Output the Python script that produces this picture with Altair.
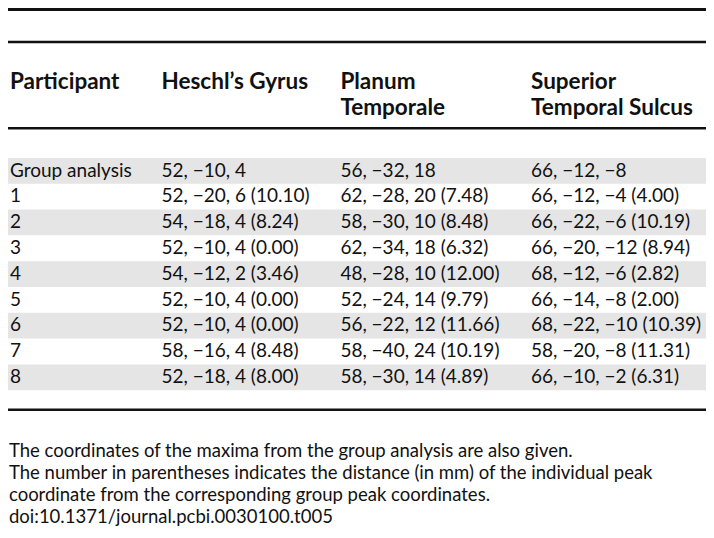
import altair as alt
import pandas as pd

# ---- table content ----
participants = ["Group analysis", "1", "2", "3", "4", "5", "6", "7", "8"]
heschl = ["52, −10, 4", "52, −20, 6 (10.10)", "54, −18, 4 (8.24)", "52, −10, 4 (0.00)",
          "54, −12, 2 (3.46)", "52, −10, 4 (0.00)", "52, −10, 4 (0.00)", "58, −16, 4 (8.48)",
          "52, −18, 4 (8.00)"]
planum = ["56, −32, 18", "62, −28, 20 (7.48)", "58, −30, 10 (8.48)", "62, −34, 18 (6.32)",
          "48, −28, 10 (12.00)", "52, −24, 14 (9.79)", "56, −22, 12 (11.66)", "58, −40, 24 (10.19)",
          "58, −30, 14 (4.89)"]
sts = ["66, −12, −8", "66, −12, −4 (4.00)", "66, −22, −6 (10.19)", "66, −20, −12 (8.94)",
       "68, −12, −6 (2.82)", "66, −14, −8 (2.00)", "68, −22, −10 (10.39)", "58, −20, −8 (11.31)",
       "66, −10, −2 (6.31)"]
header_line1 = ["Participant", "Heschl’s Gyrus", "Planum", "Superior"]
header_line2 = ["", "", "Temporale", "Temporal Sulcus"]
footnotes = [
    "The coordinates of the maxima from the group analysis are also given.",
    "The number in parentheses indicates the distance (in mm) of the individual peak",
    "coordinate from the corresponding group peak coordinates.",
    "doi:10.1371/journal.pcbi.0030100.t005",
]

# ---- layout (reference pixel space) ----
REF_W, REF_H = 714, 538
col_x = [2, 157, 340, 535]
head_y = [76, 103]
row_y0, pitch = 167.5, 26.6
band_top = 154.5
rule_y = [1.5, 35, 124, 414]
rule_w = [3, 2.4, 2.4, 2.4]
foot_y0, foot_pitch = 457, 22.6
FONT = "Lato"
FS = 19
FS_HEAD = 22.5
FS_FOOT = 18.5

columns = [participants, heschl, planum, sts]

cells = pd.DataFrame([
    {"x": col_x[j], "y": row_y0 + i * pitch, "t": columns[j][i]}
    for j in range(4) for i in range(len(participants))
])
heads = pd.DataFrame([
    {"x": col_x[j], "y": head_y[k], "t": [header_line1, header_line2][k][j]}
    for j in range(4) for k in range(2) if [header_line1, header_line2][k][j]
])
bands = pd.DataFrame([
    {"x": 0, "x2": REF_W, "y": band_top + i * pitch, "y2": band_top + (i + 1) * pitch}
    for i in range(0, len(participants), 2)
])
rules = pd.DataFrame([
    {"x": 0, "x2": REF_W, "y": y, "w": w} for y, w in zip(rule_y, rule_w)
])
foots = pd.DataFrame([
    {"x": 1, "y": foot_y0 + k * foot_pitch, "t": t} for k, t in enumerate(footnotes)
])

xs = alt.Scale(domain=[0, REF_W], nice=False, zero=False)
ys = alt.Scale(domain=[0, REF_H], nice=False, zero=False, reverse=True)

band_layer = alt.Chart(bands).mark_rect(color="#e5e5e5").encode(
    x=alt.X("x:Q", scale=xs, axis=None), x2="x2:Q",
    y=alt.Y("y:Q", scale=ys, axis=None), y2="y2:Q")

rule_layer = alt.Chart(rules).mark_rule(color="#111111").encode(
    x=alt.X("x:Q", scale=xs, axis=None), x2="x2:Q",
    y=alt.Y("y:Q", scale=ys, axis=None),
    strokeWidth=alt.StrokeWidth("w:Q", scale=None, legend=None))

head_layer = alt.Chart(heads).mark_text(
    align="left", baseline="middle", font=FONT, fontSize=FS_HEAD, fontWeight="bold", color="#111111"
).encode(x=alt.X("x:Q", scale=xs, axis=None), y=alt.Y("y:Q", scale=ys, axis=None), text="t:N")

cell_layer = alt.Chart(cells).mark_text(
    align="left", baseline="middle", font=FONT, fontSize=FS, color="#111111"
).encode(x=alt.X("x:Q", scale=xs, axis=None), y=alt.Y("y:Q", scale=ys, axis=None), text="t:N")

foot_layer = alt.Chart(foots).mark_text(
    align="left", baseline="middle", font=FONT, fontSize=FS_FOOT, color="#111111"
).encode(x=alt.X("x:Q", scale=xs, axis=None), y=alt.Y("y:Q", scale=ys, axis=None), text="t:N")

chart = alt.layer(band_layer, rule_layer, head_layer, cell_layer, foot_layer).properties(
    width=698, height=522, padding=0, background="white", autosize="none"
).configure_view(stroke=None)

chart.save("out.html", embed_options={"renderer": "svg", "actions": False})
